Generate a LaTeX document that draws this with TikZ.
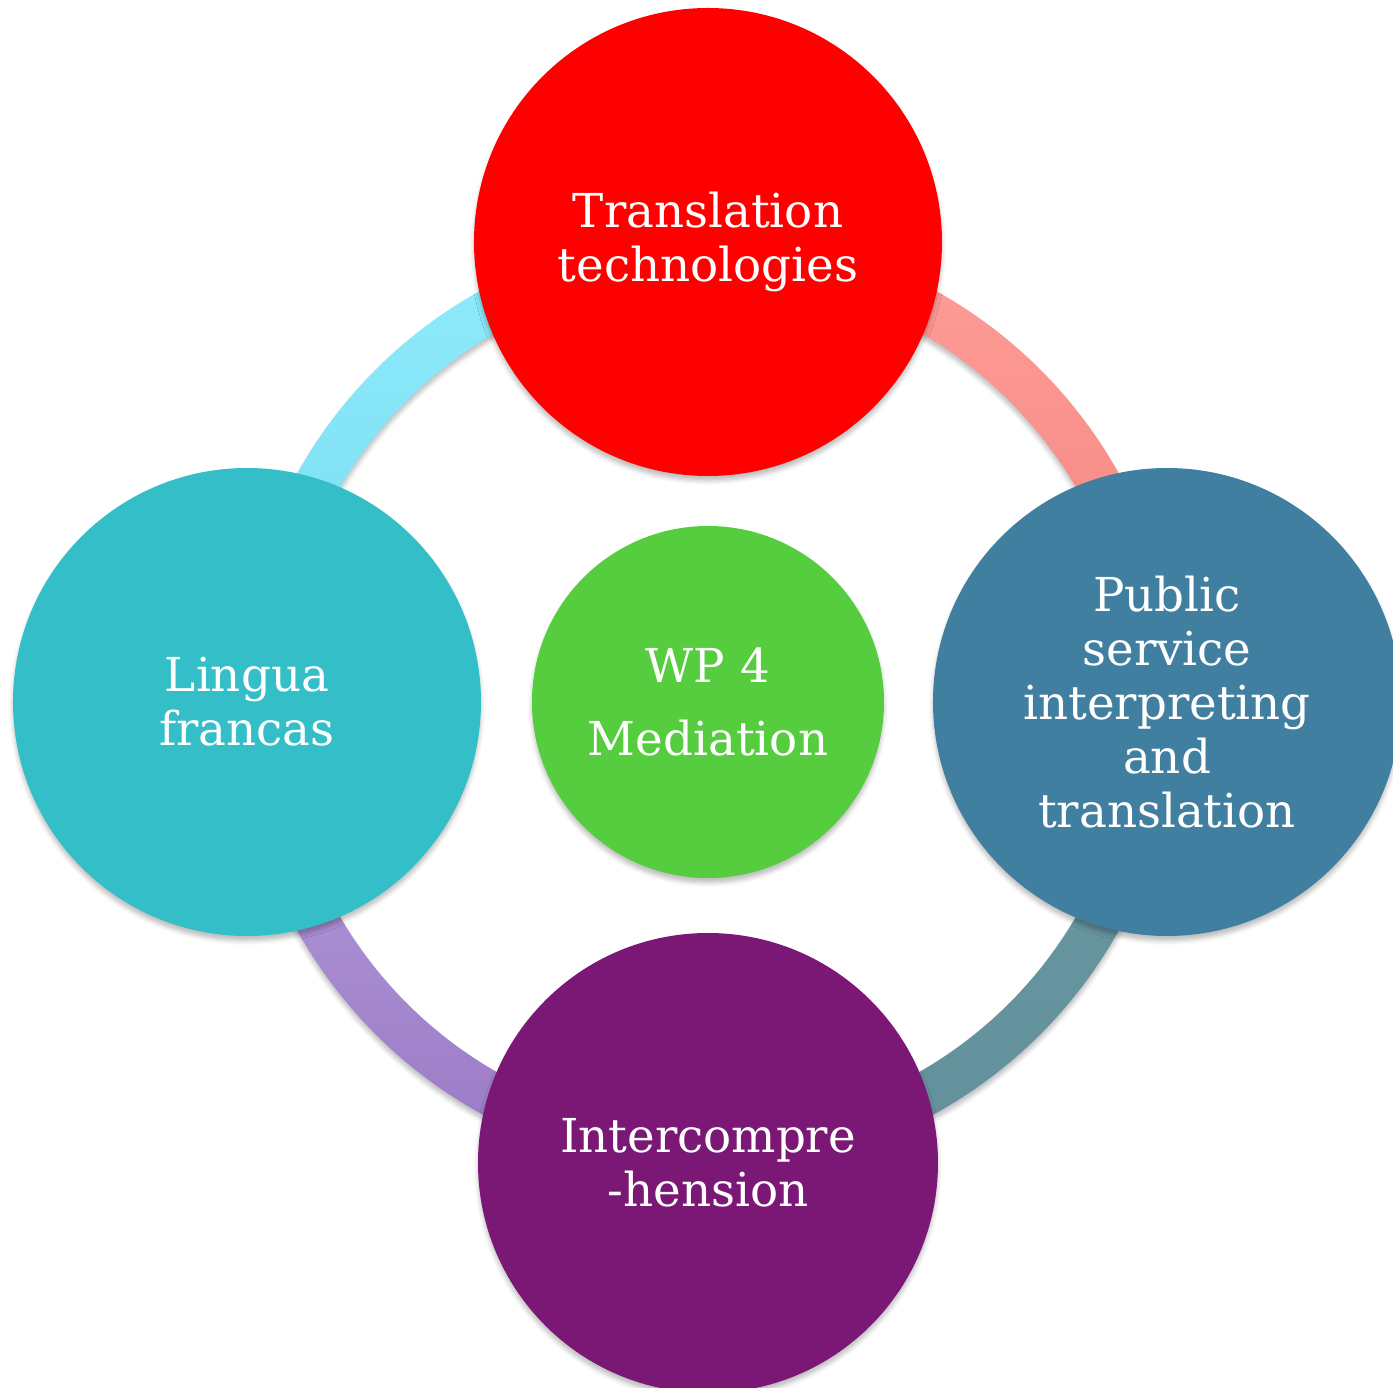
\documentclass[tikz,border=0pt]{standalone}
\usepackage{fontspec}
\setmainfont{DejaVu Serif}
\usetikzlibrary{shadows.blur}
\usepackage{xcolor}
\definecolor{wpRed}{HTML}{FF0000}
\definecolor{wpBlue}{HTML}{407F9F}
\definecolor{wpTeal}{HTML}{33BEC8}
\definecolor{wpPurple}{HTML}{7B1775}
\definecolor{wpGreen}{HTML}{55CD3F}
\definecolor{ringCyanT}{HTML}{8FEBFB}
\definecolor{ringCyanB}{HTML}{76DCF0}
\definecolor{ringSalmonT}{HTML}{FF9E98}
\definecolor{ringSalmonB}{HTML}{F2827D}
\definecolor{ringSlateT}{HTML}{6A98A2}
\definecolor{ringSlateB}{HTML}{62909B}
\definecolor{ringLilacT}{HTML}{B8A0DE}
\definecolor{ringLilacB}{HTML}{9978C4}

\begin{document}
\begin{tikzpicture}[font=\fontsize{13.3}{15.4}\selectfont,
  wpshadow/.style={blur shadow={shadow xshift=0pt, shadow yshift=-1.4pt,
    shadow blur radius=1.2pt, shadow opacity=25}},
  wpcircle/.style={circle, inner sep=0pt, minimum size=4.68cm, text=white,
    align=center, wpshadow},
  ringpart/.style={wpshadow}]
  \clip (-7.08,-6.86) rectangle (6.85,7.02);
  \coordinate (hub) at (0,0);
  \path[ringpart, top color=ringCyanT, bottom color=ringCyanB]
    ([shift={(90:4.70)}]hub) arc[start angle=90, end angle=180, radius=4.70]
    -- ([shift={(180:4.26)}]hub) arc[start angle=180, end angle=90, radius=4.26] -- cycle;
  \path[ringpart, top color=ringSalmonT, bottom color=ringSalmonB]
    ([shift={(0:4.70)}]hub) arc[start angle=0, end angle=90, radius=4.70]
    -- ([shift={(90:4.26)}]hub) arc[start angle=90, end angle=0, radius=4.26] -- cycle;
  \path[ringpart, top color=ringSlateT, bottom color=ringSlateB]
    ([shift={(270:4.70)}]hub) arc[start angle=270, end angle=360, radius=4.70]
    -- ([shift={(0:4.26)}]hub) arc[start angle=360, end angle=270, radius=4.26] -- cycle;
  \path[ringpart, top color=ringLilacT, bottom color=ringLilacB]
    ([shift={(180:4.70)}]hub) arc[start angle=180, end angle=270, radius=4.70]
    -- ([shift={(270:4.26)}]hub) arc[start angle=270, end angle=180, radius=4.26] -- cycle;
  \node[wpcircle, fill=wpRed] (trans) at (0,4.60) {Translation\\technologies};
  \node[wpcircle, fill=wpTeal] (lingua) at (-4.61,0) {Lingua\\francas};
  \node[wpcircle, fill=wpBlue] (psit) at (4.59,0)
    {Public\\service\\interpreting\\and\\translation};
  \node[wpcircle, fill=wpPurple, minimum size=4.60cm] (inter) at (0,-4.61)
    {Intercompre\\-hension};
  \node[wpcircle, fill=wpGreen, minimum size=3.52cm] (wp) at (hub)
    {WP 4\\[5.4pt]Mediation};
\end{tikzpicture}
\end{document}
